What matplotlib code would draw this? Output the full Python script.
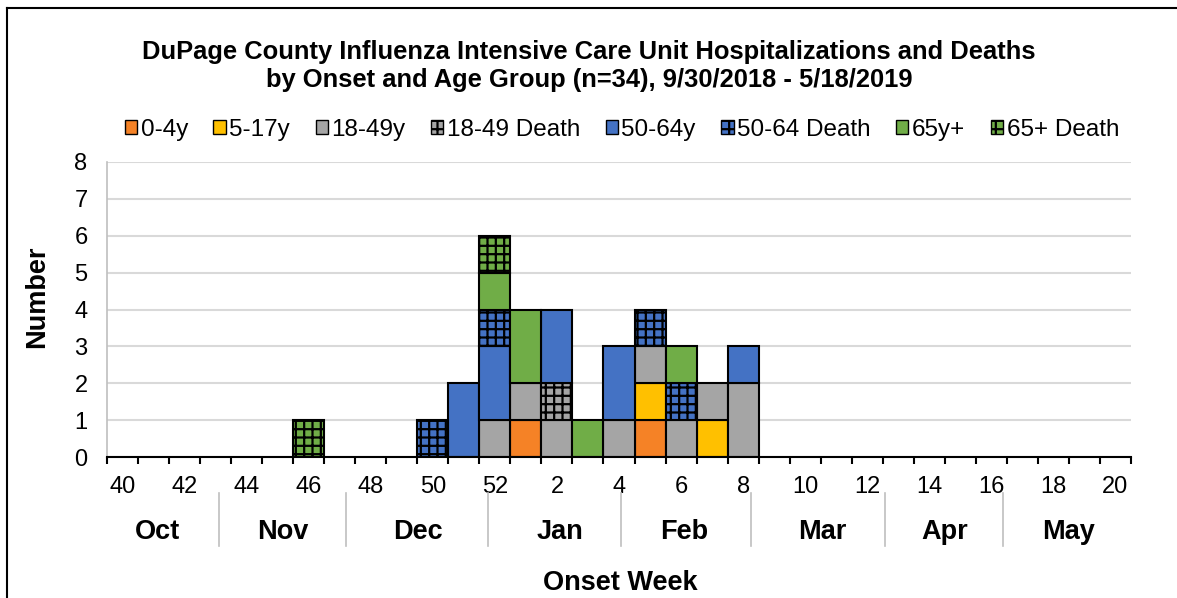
import matplotlib
matplotlib.use("Agg")
import matplotlib.pyplot as plt
from matplotlib.lines import Line2D
import numpy as np

plt.rcParams['font.family'] = ['Liberation Sans', 'DejaVu Sans']
plt.rcParams['hatch.linewidth'] = 1.6
plt.rcParams['hatch.color'] = 'black'

# ---- data ----
weeks = [40, 41, 42, 43, 44, 45, 46, 47, 48, 49, 50, 51, 52,
         1, 2, 3, 4, 5, 6, 7, 8, 9, 10, 11, 12, 13, 14, 15, 16, 17, 18, 19, 20]
#            40 41 42 43 44 45 46 47 48 49 50 51 52  1  2  3  4  5  6  7  8  9 10 11 12 13 14 15 16 17 18 19 20
age_0_4   = [0, 0, 0, 0, 0, 0, 0, 0, 0, 0, 0, 0, 0, 1, 0, 0, 0, 1, 0, 0, 0, 0, 0, 0, 0, 0, 0, 0, 0, 0, 0, 0, 0]
age_5_17  = [0, 0, 0, 0, 0, 0, 0, 0, 0, 0, 0, 0, 0, 0, 0, 0, 0, 1, 0, 1, 0, 0, 0, 0, 0, 0, 0, 0, 0, 0, 0, 0, 0]
age_18_49 = [0, 0, 0, 0, 0, 0, 0, 0, 0, 0, 0, 0, 1, 1, 1, 0, 1, 1, 1, 1, 2, 0, 0, 0, 0, 0, 0, 0, 0, 0, 0, 0, 0]
death_18_49 = [0, 0, 0, 0, 0, 0, 0, 0, 0, 0, 0, 0, 0, 0, 1, 0, 0, 0, 0, 0, 0, 0, 0, 0, 0, 0, 0, 0, 0, 0, 0, 0, 0]
age_50_64 = [0, 0, 0, 0, 0, 0, 0, 0, 0, 0, 0, 2, 2, 0, 2, 0, 2, 0, 0, 0, 1, 0, 0, 0, 0, 0, 0, 0, 0, 0, 0, 0, 0]
death_50_64 = [0, 0, 0, 0, 0, 0, 0, 0, 0, 0, 1, 0, 1, 0, 0, 0, 0, 1, 1, 0, 0, 0, 0, 0, 0, 0, 0, 0, 0, 0, 0, 0, 0]
age_65 = [0, 0, 0, 0, 0, 0, 0, 0, 0, 0, 0, 0, 1, 2, 0, 1, 0, 0, 1, 0, 0, 0, 0, 0, 0, 0, 0, 0, 0, 0, 0, 0, 0]
death_65 = [0, 0, 0, 0, 0, 0, 1, 0, 0, 0, 0, 0, 1, 0, 0, 0, 0, 0, 0, 0, 0, 0, 0, 0, 0, 0, 0, 0, 0, 0, 0, 0, 0]

series_names = ['0-4y', '5-17y', '18-49y', '18-49 Death', '50-64y', '50-64 Death', '65y+', '65+ Death']
series_values = [age_0_4, age_5_17, age_18_49, death_18_49, age_50_64, death_50_64, age_65, death_65]
series_colors = ['#F58226', '#FFC000', '#A5A5A5', '#A5A5A5', '#4472C4', '#4472C4', '#70AD47', '#70AD47']
series_hatch = [None, None, None, '++', None, '++', None, '++']

months = ['Oct', 'Nov', 'Dec', 'Jan', 'Feb', 'Mar', 'Apr', 'May']

# ---- layout ----
W, H = 1177, 598
fig = plt.figure(figsize=(W / 100, H / 100), dpi=100)
ax = fig.add_axes([107 / W, 1 - 457 / H, (1131 - 107) / W, (457 - 162) / H])

x = np.arange(len(weeks))
bottom = np.zeros(len(weeks))
handles = []
for name, vals, col, hat in zip(series_names, series_values, series_colors, series_hatch):
    vals = np.array(vals, dtype=float)
    mask = vals > 0
    ax.bar(x[mask], vals[mask], width=1.0, bottom=bottom[mask], color=col,
           edgecolor='black', linewidth=1.5, hatch=hat, zorder=3)
    bottom += vals
    handles.append(plt.Rectangle((0, 0), 1, 1, facecolor=col, edgecolor='black',
                                 linewidth=1.0, hatch=hat, label=name))

ax.set_xlim(-0.5, len(weeks) - 0.5)
ax.set_ylim(0, 8)
ax.set_yticks(range(0, 9))
ax.yaxis.grid(True, color='#D9D9D9', linewidth=1.5, zorder=0)
ax.set_axisbelow(True)
for s in ['top', 'right']:
    ax.spines[s].set_visible(False)
ax.spines['left'].set_color('#BFBFBF')
ax.spines['left'].set_linewidth(1.2)
ax.spines['bottom'].set_color('black')
ax.spines['bottom'].set_linewidth(1.5)
ax.spines['bottom'].set_zorder(4)

ax.tick_params(axis='y', length=0, pad=14, labelsize=17)
ax.set_xticks(x[::2])
ax.set_xticklabels([str(w) for w in weeks[::2]])
ax.set_xticks(np.arange(-0.5, len(weeks)), minor=True)
ax.tick_params(axis='x', which='major', length=0, pad=14, labelsize=17)
ax.tick_params(axis='x', which='minor', length=5, width=1.5, color='black', direction='out')

# month labels and dividers (pixel layout)
month_px = [157, 283, 418, 560, 684, 822, 945, 1069]
divider_px = [219, 346, 488, 621, 751, 885, 1003]
for m, px in zip(months, month_px):
    fig.text(px / W, 1 - 532 / H, m, ha='center', va='center', fontsize=19.5, fontweight='bold')
for px in divider_px:
    fig.add_artist(Line2D([px / W, px / W], [1 - 493 / H, 1 - 546 / H], color='#BFBFBF', linewidth=1.2))

fig.text(620 / W, 1 - 583 / H, 'Onset Week', ha='center', va='center', fontsize=19.5, fontweight='bold')
fig.text(37 / W, 1 - 297 / H, 'Number', ha='center', va='center', rotation=90, fontsize=19.5, fontweight='bold')

fig.text(589 / W, 1 - 52 / H, 'DuPage County Influenza Intensive Care Unit Hospitalizations and Deaths',
         ha='center', va='center', fontsize=18.4, fontweight='bold')
fig.text(589 / W, 1 - 80 / H, 'by Onset and Age Group (n=34), 9/30/2018 - 5/18/2019',
         ha='center', va='center', fontsize=18.4, fontweight='bold')

fig.legend(handles=handles, loc='center', bbox_to_anchor=(622 / W, 1 - 130 / H), ncol=8,
           frameon=False, fontsize=17.5, handlelength=0.5, handleheight=0.5,
           handletextpad=0.15, columnspacing=1.05, borderaxespad=0)

# outer frame (top and left edges visible)
fig.add_artist(Line2D([7 / W, 1.0], [1 - 8 / H, 1 - 8 / H], color='black', linewidth=1.5))
fig.add_artist(Line2D([7 / W, 7 / W], [1 - 8 / H, 0.0], color='black', linewidth=1.5))

fig.savefig('out.png', dpi=100)
